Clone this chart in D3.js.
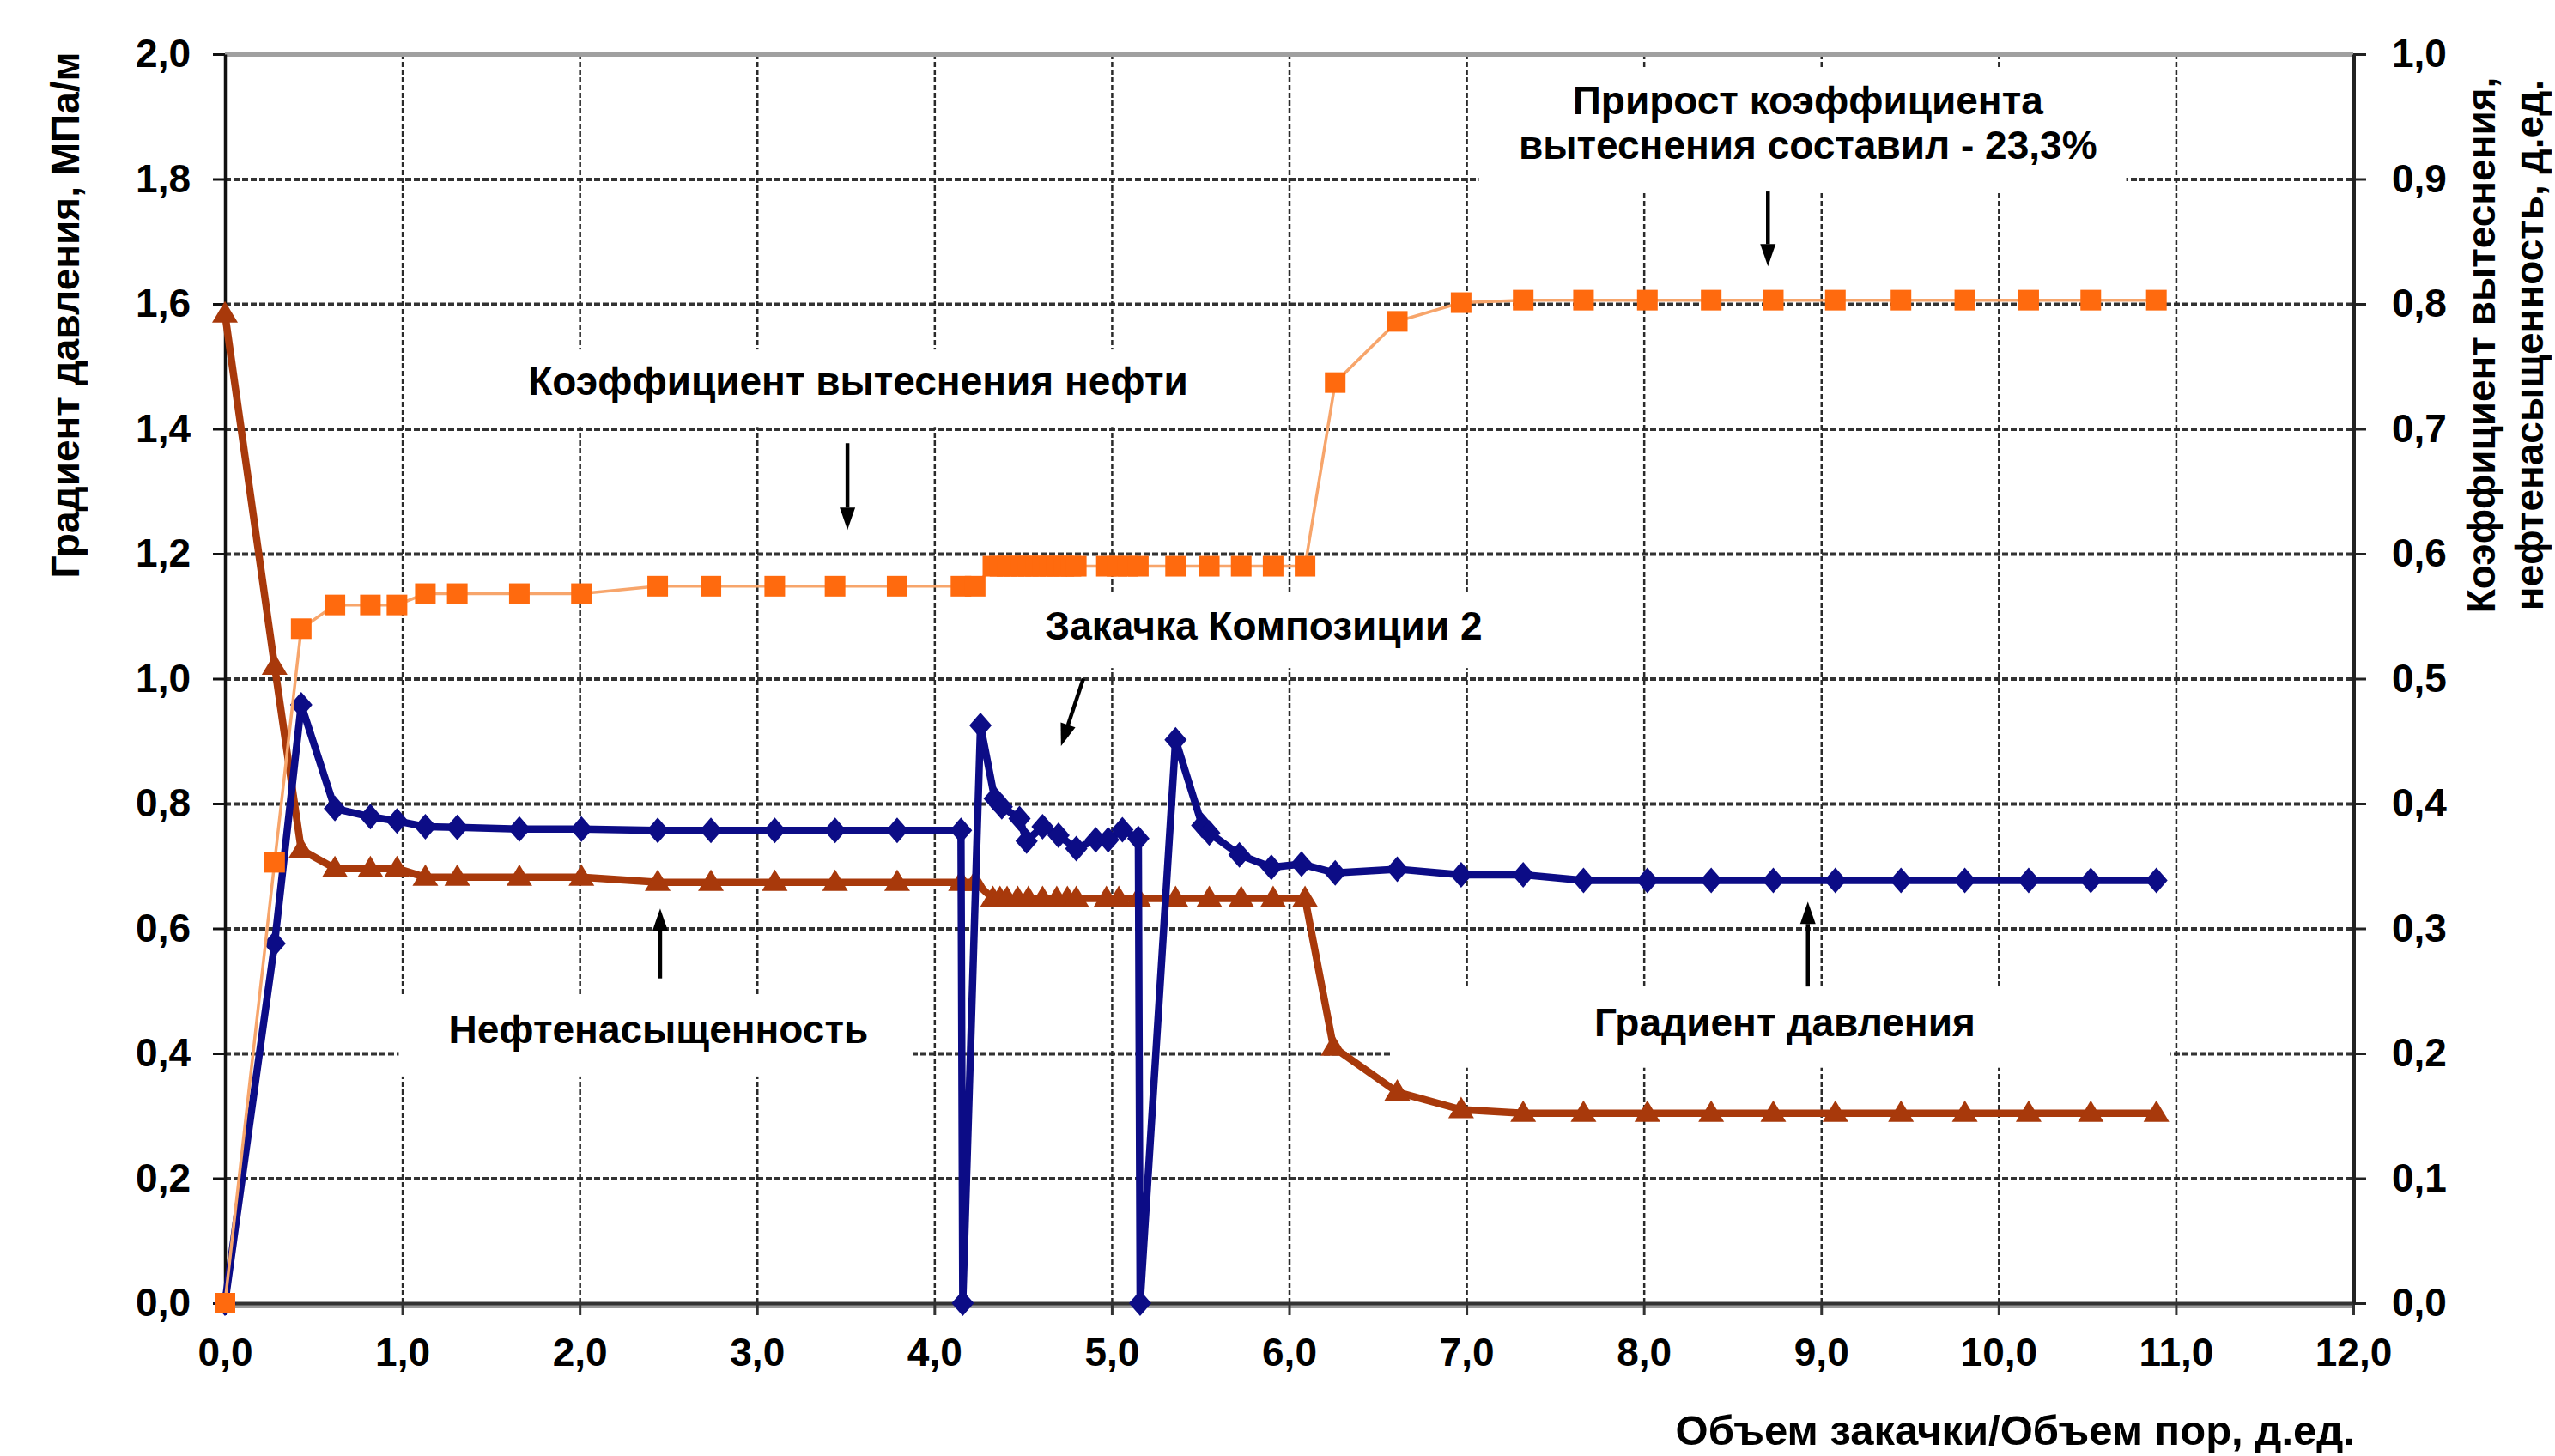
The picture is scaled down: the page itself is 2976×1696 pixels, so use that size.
<!DOCTYPE html>
<html>
<head>
<meta charset="utf-8">
<script src="https://cdn.jsdelivr.net/npm/d3@7"></script>
<style>
  html, body { margin: 0; padding: 0; background: #fff; }
  svg text { font-family: 'Liberation Sans', Arial, sans-serif; font-weight: bold; fill: #000; }
</style>
</head>
<body>
<svg id="chart" width="2976" height="1696"></svg>
<script>
// --- data ---
// Градиент давления, МПа/м (left axis)
const gradX = [0, 0.28, 0.43, 0.62, 0.82, 0.97, 1.13, 1.31, 1.66, 2.01, 2.44, 2.74, 3.10, 3.44, 3.79, 4.15, 4.16,
  4.26, 4.34, 4.38, 4.48, 4.52, 4.61, 4.70, 4.80, 4.91, 4.98, 5.06, 5.15, 5.16,
  5.36, 5.51, 5.55, 5.72, 5.90, 6.07, 6.26, 6.61, 6.97, 7.32, 7.66, 8.02, 8.38, 8.73, 9.08, 9.45, 9.81, 10.17, 10.52, 10.89];
const gradY = [0, 0.576, 0.958, 0.792, 0.779, 0.772, 0.763, 0.762, 0.759, 0.759, 0.757, 0.757, 0.757, 0.757, 0.757, 0.757, 0,
  0.925, 0.808, 0.795, 0.776, 0.740, 0.763, 0.749, 0.728, 0.742, 0.742, 0.758, 0.744, 0,
  0.902, 0.765, 0.753, 0.718, 0.698, 0.703, 0.689, 0.695, 0.686, 0.686, 0.677, 0.677, 0.677, 0.677, 0.677, 0.677, 0.677, 0.677, 0.677, 0.677];

// Коэффициент вытеснения нефти, д.ед. (right axis)
const koefX = [0, 0.28, 0.43, 0.62, 0.82, 0.97, 1.13, 1.31, 1.66, 2.01, 2.44, 2.74, 3.10, 3.44, 3.79, 4.15, 4.23,
  4.33, 4.37, 4.41, 4.45, 4.49, 4.53, 4.57, 4.61, 4.65, 4.69, 4.73, 4.77, 4.80, 4.97, 5.03, 5.09, 5.15,
  5.36, 5.55, 5.73, 5.91, 6.09, 6.26, 6.61, 6.97, 7.32, 7.66, 8.02, 8.38, 8.73, 9.08, 9.45, 9.81, 10.17, 10.52, 10.89];
const koefY = [0, 0.353, 0.540, 0.559, 0.559, 0.559, 0.568, 0.568, 0.568, 0.568, 0.574, 0.574, 0.574, 0.574, 0.574, 0.574, 0.574,
  0.590, 0.590, 0.590, 0.590, 0.590, 0.590, 0.590, 0.590, 0.590, 0.590, 0.590, 0.590, 0.590, 0.590, 0.590, 0.590, 0.590,
  0.590, 0.590, 0.590, 0.590, 0.590, 0.737, 0.786, 0.801, 0.803, 0.803, 0.803, 0.803, 0.803, 0.803, 0.803, 0.803, 0.803, 0.803, 0.803];

// Нефтенасыщенность, д.ед. (right axis)
const neftX = [0, 0.28, 0.43, 0.62, 0.82, 0.97, 1.13, 1.31, 1.66, 2.01, 2.44, 2.74, 3.10, 3.44, 3.79, 4.15, 4.23,
  4.33, 4.37, 4.41, 4.47, 4.53, 4.61, 4.69, 4.75, 4.80, 4.97, 5.04, 5.15,
  5.36, 5.55, 5.73, 5.91, 6.09, 6.25, 6.61, 6.97, 7.32, 7.66, 8.02, 8.38, 8.73, 9.08, 9.45, 9.81, 10.17, 10.52, 10.89];
const neftY = [0.792, 0.510, 0.363, 0.348, 0.348, 0.348, 0.341, 0.341, 0.341, 0.341, 0.337, 0.337, 0.337, 0.337, 0.337, 0.337, 0.337,
  0.324, 0.324, 0.324, 0.324, 0.324, 0.324, 0.324, 0.324, 0.324, 0.324, 0.324, 0.324,
  0.324, 0.324, 0.324, 0.324, 0.324, 0.205, 0.169, 0.155, 0.152, 0.152, 0.152, 0.152, 0.152, 0.152, 0.152, 0.152, 0.152, 0.152, 0.152];

const xTicks = [0, 1, 2, 3, 4, 5, 6, 7, 8, 9, 10, 11, 12];
const yLeftTicks = [0, 0.2, 0.4, 0.6, 0.8, 1.0, 1.2, 1.4, 1.6, 1.8, 2.0];
const yRightTicks = [0, 0.1, 0.2, 0.3, 0.4, 0.5, 0.6, 0.7, 0.8, 0.9, 1.0];

const TITLE_X = 'Объем закачки/Объем пор, д.ед.';
const TITLE_YL = 'Градиент давления, МПа/м';
const TITLE_YR = ['Коэффициент вытеснения,', 'нефтенасыщенность, д.ед.'];

// annotations in data units (x axis / left axis): box, text lines, arrow
const NOTES = [
  { box: [7.07, 10.72, 1.780, 1.974], cx: 8.925, lines: ['Прирост коэффициента', 'вытеснения составил - 23,3%'], base: [1.904, 1.832],
    arrow: [8.70, 1.78, 8.70, 1.66] },
  { box: [1.64, 5.56, 1.403, 1.527], cx: 3.57, lines: ['Коэффициент вытеснения нефти'], base: [1.454],
    arrow: [3.51, 1.377, 3.51, 1.238] },
  { box: [4.54, 7.18, 1.017, 1.138], cx: 5.857, lines: ['Закачка Композиции 2'], base: [1.063],
    arrow: [4.84, 1.0, 4.714, 0.892] },
  { box: [0.98, 3.88, 0.363, 0.492], cx: 2.444, lines: ['Нефтенасыщенность'], base: [0.4165],
    arrow: [2.454, 0.52, 2.454, 0.632] },
  { box: [6.58, 10.97, 0.377, 0.5045], cx: 8.795, lines: ['Градиент давления'], base: [0.4275],
    arrow: [8.925, 0.507, 8.925, 0.643] },
];

// --- layout ---
const M = { left: 262, right: 2741, top: 63, bottom: 1518 };
const FS = 46;

const svg = d3.select('#chart');
const x = d3.scaleLinear().domain([0, 12]).range([M.left, M.right]);
const yL = d3.scaleLinear().domain([0, 2]).range([M.bottom, M.top]);
const yR = d3.scaleLinear().domain([0, 1]).range([M.bottom, M.top]);
const fmt = v => d3.format('.1f')(v).replace('.', ',');

// gridlines
svg.append('g')
  .attr('transform', `translate(${M.left},0)`)
  .call(d3.axisLeft(yL).tickValues(yLeftTicks.slice(1, -1)).tickSize(-(M.right - M.left)).tickFormat(''))
  .call(g => g.select('.domain').remove())
  .selectAll('line').attr('stroke', '#333').attr('stroke-width', 4).attr('stroke-dasharray', '7,3');

svg.append('g')
  .attr('transform', `translate(0,${M.bottom})`)
  .call(d3.axisBottom(x).tickValues(xTicks.slice(1, -1)).tickSize(-(M.bottom - M.top)).tickFormat(''))
  .call(g => g.select('.domain').remove())
  .selectAll('line').attr('stroke', '#2a2a2a').attr('stroke-width', 2.5).attr('stroke-dasharray', '6,3');

// plot border top (grey) and bottom shadow
svg.append('line').attr('x1', M.left).attr('x2', M.right).attr('y1', M.top).attr('y2', M.top)
  .attr('stroke', '#a0a0a0').attr('stroke-width', 6);
svg.append('line').attr('x1', M.left).attr('x2', M.right).attr('y1', M.bottom + 4).attr('y2', M.bottom + 4)
  .attr('stroke', '#9a9a9a').attr('stroke-width', 4);

// annotation boxes (white, they hide the grid)
svg.append('g').selectAll('rect').data(NOTES).join('rect')
  .attr('x', d => x(d.box[0])).attr('width', d => x(d.box[1]) - x(d.box[0]))
  .attr('y', d => yL(d.box[3])).attr('height', d => yL(d.box[2]) - yL(d.box[3]))
  .attr('fill', '#fff');

// axes
function styleAxis(g, width, color) {
  g.select('.domain').attr('stroke', color).attr('stroke-width', width);
  g.selectAll('.tick line').attr('stroke', color).attr('stroke-width', 3);
  g.selectAll('.tick text').attr('font-size', FS).attr('fill', '#000');
}

svg.append('g')
  .attr('transform', `translate(0,${M.bottom})`)
  .call(d3.axisBottom(x).tickValues(xTicks).tickFormat(fmt).tickSize(14).tickSizeOuter(0).tickPadding(26))
  .call(g => styleAxis(g, 4, '#333'));

svg.append('g')
  .attr('transform', `translate(${M.left},0)`)
  .call(d3.axisLeft(yL).tickValues(yLeftTicks).tickFormat(fmt).tickSize(14).tickSizeOuter(0).tickPadding(26))
  .call(g => styleAxis(g, 3.5, '#111'));

svg.append('g')
  .attr('transform', `translate(${M.right},0)`)
  .call(d3.axisRight(yR).tickValues(yRightTicks).tickFormat(fmt).tickSize(15).tickSizeOuter(0).tickPadding(30))
  .call(g => styleAxis(g, 5, '#222'));

// axis titles
svg.append('text').attr('x', M.right + 2).attr('y', 1683).attr('text-anchor', 'end')
  .attr('font-size', 49).text(TITLE_X);
svg.append('text').attr('transform', 'translate(76,367) rotate(-90)')
  .attr('text-anchor', 'middle').attr('dominant-baseline', 'central')
  .attr('font-size', FS).text(TITLE_YL);
TITLE_YR.forEach((t, i) => {
  svg.append('text').attr('transform', `translate(${2890 + i * 56},402) rotate(-90)`)
    .attr('text-anchor', 'middle').attr('dominant-baseline', 'central')
    .attr('font-size', 46).text(t);
});

// series
const line = yScale => d3.line().x(d => x(d[0])).y(d => yScale(d[1]));

const neft = d3.zip(neftX, neftY);
svg.append('path').datum(neft).attr('d', line(yR))
  .attr('fill', 'none').attr('stroke', '#a8390b').attr('stroke-width', 8.5).attr('stroke-linejoin', 'round');
svg.append('g').selectAll('path').data(neft).join('path')
  .attr('transform', d => `translate(${x(d[0])},${yR(d[1])})`)
  .attr('d', 'M0,-15L15,10L-15,10Z').attr('fill', '#a8390b');

const grad = d3.zip(gradX, gradY);
svg.append('path').datum(grad).attr('d', line(yL))
  .attr('fill', 'none').attr('stroke', '#0c0c86').attr('stroke-width', 8.5).attr('stroke-linejoin', 'round');
svg.append('g').selectAll('path').data(grad).join('path')
  .attr('transform', d => `translate(${x(d[0])},${yL(d[1])})`)
  .attr('d', 'M0,-15L13,0L0,15L-13,0Z').attr('fill', '#0c0c86');

const koef = d3.zip(koefX, koefY);
svg.append('path').datum(koef).attr('d', line(yR))
  .attr('fill', 'none').attr('stroke', '#f7a56b').attr('stroke-width', 3.5);
svg.append('g').selectAll('rect').data(koef).join('rect')
  .attr('x', d => x(d[0]) - 12).attr('y', d => yR(d[1]) - 12)
  .attr('width', 24).attr('height', 24).attr('fill', '#ff6a0e');

// annotation texts and arrows
const ann = svg.append('g');
NOTES.forEach(n => {
  n.lines.forEach((t, i) => {
    ann.append('text').attr('x', x(n.cx)).attr('y', yL(n.base[i]))
      .attr('text-anchor', 'middle').attr('font-size', FS).text(t);
  });
  const [ax1, ay1, ax2, ay2] = n.arrow;
  const p1 = [x(ax1), yL(ay1)], p2 = [x(ax2), yL(ay2)];
  const ang = Math.atan2(p2[1] - p1[1], p2[0] - p1[0]);
  const hl = 26, hw = 9;
  const base = [p2[0] - hl * Math.cos(ang), p2[1] - hl * Math.sin(ang)];
  ann.append('line').attr('x1', p1[0]).attr('y1', p1[1]).attr('x2', base[0]).attr('y2', base[1])
    .attr('stroke', '#000').attr('stroke-width', 4.5);
  const nx = -Math.sin(ang) * hw, ny = Math.cos(ang) * hw;
  ann.append('path')
    .attr('d', `M${p2[0]},${p2[1]}L${base[0] + nx},${base[1] + ny}L${base[0] - nx},${base[1] - ny}Z`)
    .attr('fill', '#000');
});
</script>
</body>
</html>
